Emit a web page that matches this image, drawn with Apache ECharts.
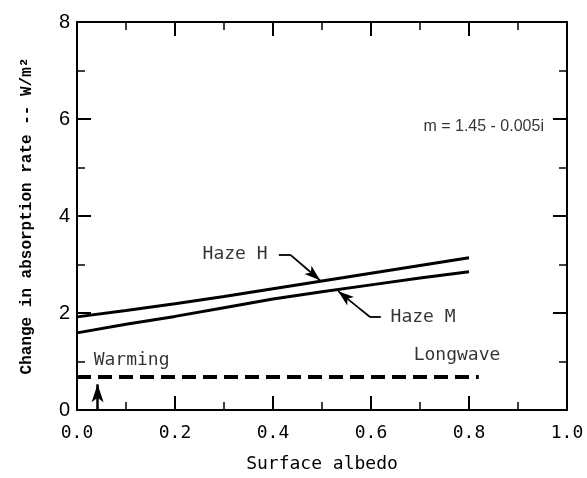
<!DOCTYPE html>
<html><head><meta charset="utf-8">
<script src="https://cdn.jsdelivr.net/npm/echarts@6/dist/echarts.min.js"></script>
<style>html,body{margin:0;padding:0;background:#fff}#c{width:587px;height:478px}</style>
</head><body><div id="c"></div>
<script>
const albedo = [0, 0.1, 0.2, 0.3, 0.4, 0.5, 0.6, 0.7, 0.8];
const hazeH = [1.92, 2.05, 2.19, 2.34, 2.50, 2.66, 2.82, 2.98, 3.14];
const hazeM = [1.59, 1.77, 1.93, 2.11, 2.29, 2.44, 2.58, 2.72, 2.85];
const longwaveX = [0, 0.82];
const longwaveY = [0.68, 0.68];
const xTicks = [0, 0.2, 0.4, 0.6, 0.8, 1.0];
const yTicks = [0, 2, 4, 6, 8];
// annotations: [x, y, text, align]
const notes = [
  [0.39, 3.2, 'Haze H', 'right'],
  [0.639, 1.92, 'Haze M', 'left'],
  [0.033, 1.02, 'Warming', 'left'],
  [0.686, 1.12, 'Longwave', 'left']
];
const formulaNote = [0.706, 5.84, 'm = 1.45 - 0.005i'];
const leaderH = [[0.412, 3.204], [0.435, 3.204], [0.461, 2.98], [0.496, 2.673]];
const leaderM = [[0.620, 1.918], [0.598, 1.918], [0.573, 2.122], [0.533, 2.45]];
const warmArrow = [[0.042, 0], [0.042, 0.53]];

const mono = 'DejaVu Sans Mono';
function leaderSegs(pts, w, head) {
  const segs = [];
  for (let i = 0; i < pts.length - 1; i++) {
    const last = i === pts.length - 2;
    segs.push([{coord: pts[i], symbol: 'none', lineStyle: {width: w}},
      {coord: pts[i + 1], symbol: last ? 'arrow' : 'none', symbolSize: last ? head : 0}]);
  }
  return segs;
}
function axisCommon() {
  return {
    axisLine: {show: true, onZero: false, lineStyle: {color: '#000', width: 2}},
    axisTick: {show: true, inside: true, length: 14, lineStyle: {color: '#000', width: 2}},
    minorTick: {show: true, splitNumber: 2, length: 8, lineStyle: {color: '#000', width: 1.5}},
    splitLine: {show: false}, minorSplitLine: {show: false}
  };
}
const chart = echarts.init(document.getElementById('c'));
chart.setOption({
  animation: false,
  grid: {left: 77, right: 20, top: 22, bottom: 64},
  xAxis: [
    Object.assign({type: 'value', min: 0, max: 1, interval: 0.2, position: 'bottom',
      name: 'Surface albedo', nameLocation: 'middle', nameGap: 45,
      nameTextStyle: {fontFamily: mono, fontSize: 18, color: '#000'},
      axisLabel: {fontFamily: mono, fontSize: 18, color: '#000', margin: 14,
        formatter: v => xTicks.includes(+v.toFixed(1)) ? v.toFixed(1) : ''}}, axisCommon()),
    Object.assign({type: 'value', min: 0, max: 1, interval: 0.2, position: 'top', axisLabel: {show: false}}, axisCommon())
  ],
  yAxis: [
    Object.assign({type: 'value', min: 0, max: 8, interval: 2, position: 'left',
      name: 'Change in absorption rate -- W/m²', nameLocation: 'middle', nameGap: 42,
      nameTextStyle: {fontFamily: 'Liberation Mono', fontWeight: 'bold', fontSize: 16, color: '#000'},
      axisLabel: {fontFamily: 'Liberation Sans', fontSize: 20, color: '#000', margin: 7,
        formatter: v => yTicks.includes(v) ? String(v) : ''}}, axisCommon()),
    Object.assign({type: 'value', min: 0, max: 8, interval: 2, position: 'right', axisLabel: {show: false}}, axisCommon())
  ],
  series: [
    {type: 'line', name: 'Haze H', data: albedo.map((x, i) => [x, hazeH[i]]), symbol: 'none',
      lineStyle: {color: '#000', width: 3}},
    {type: 'line', name: 'Haze M', data: albedo.map((x, i) => [x, hazeM[i]]), symbol: 'none',
      lineStyle: {color: '#000', width: 3}},
    {type: 'line', name: 'Longwave', data: longwaveX.map((x, i) => [x, longwaveY[i]]), symbol: 'none',
      lineStyle: {color: '#000', width: 4, type: [14, 7]}},
    {type: 'scatter', name: 'notes', symbolSize: 1, itemStyle: {color: 'rgba(0,0,0,0)'},
      data: notes.map(n => ({value: [n[0], n[1]], label: {position: n[3] === 'right' ? 'left' : 'right'}, name: n[2]})),
      label: {show: true, distance: 0, formatter: p => p.name, fontFamily: mono, fontSize: 18, color: '#000'},
      markLine: {silent: true, animation: false, label: {show: false},
        lineStyle: {color: '#000', width: 1.5, type: 'solid'},
        data: leaderSegs(leaderH, 1.8, [8, 16]).concat(leaderSegs(leaderM, 1.8, [8, 16])).concat(leaderSegs(warmArrow, 2.5, [9, 18]))}},
    {type: 'scatter', name: 'formula', symbolSize: 1, itemStyle: {color: 'rgba(0,0,0,0)'},
      data: [{value: [formulaNote[0], formulaNote[1]], name: formulaNote[2]}],
      label: {show: true, position: 'right', distance: 0, formatter: p => p.name,
        fontFamily: 'Liberation Sans', fontSize: 16, color: '#000'}}
  ]
});
</script></body></html>
